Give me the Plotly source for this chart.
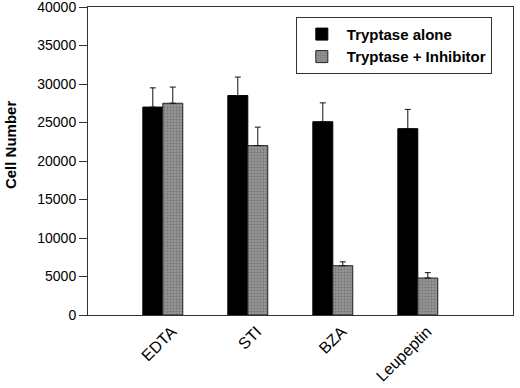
import plotly.graph_objects as go

categories = ["EDTA", "STI", "BZA", "Leupeptin"]
alone_values = [27000, 28500, 25100, 24200]
alone_errors = [2500, 2400, 2450, 2500]
inhib_values = [27500, 22000, 6400, 4800]
inhib_errors = [2100, 2400, 500, 700]
y_ticks = [0, 5000, 10000, 15000, 20000, 25000, 30000, 35000, 40000]

FONT = "Arial, 'Liberation Sans', sans-serif"

fig = go.Figure()
fig.add_trace(go.Bar(
    name="Tryptase alone", x=categories, y=alone_values,
    marker=dict(color="#000000", line=dict(color="#000000", width=1)),
    error_y=dict(type="data", array=alone_errors, symmetric=False,
                 arrayminus=[0] * len(alone_errors),
                 color="#111111", thickness=1, width=3),
))
fig.add_trace(go.Bar(
    name="Tryptase + Inhibitor", x=categories, y=inhib_values,
    marker=dict(color="#8a8a8a", line=dict(color="#222222", width=1),
                pattern=dict(shape=".", bgcolor="#9c9c9c", fgcolor="#5a5a5a",
                             size=3, solidity=0.5)),
    error_y=dict(type="data", array=inhib_errors, symmetric=False,
                 arrayminus=[0] * len(inhib_errors),
                 color="#111111", thickness=1, width=3),
))

fig.update_layout(
    width=520, height=388,
    margin=dict(l=88, r=7, t=7, b=73, autoexpand=False),
    paper_bgcolor="white", plot_bgcolor="white",
    barmode="group", bargap=0.53, bargroupgap=0,
    font=dict(family=FONT, color="black"),
    showlegend=True,
    legend=dict(
        x=0.489, y=0.968, xanchor="left", yanchor="top",
        bgcolor="white", bordercolor="#333333", borderwidth=1,
        font=dict(size=15, family=FONT, color="black", weight="bold"),
        itemwidth=40, tracegroupgap=0,
    ),
    annotations=[dict(
        text="Cell Number", textangle=-90, showarrow=False,
        xref="paper", yref="paper", x=-0.181, y=0.552,
        xanchor="center", yanchor="middle",
        font=dict(size=15, family=FONT, color="black", weight="bold"),
    )],
)
fig.update_xaxes(
    range=[-0.88, 4.12], showline=True, linecolor="#333333", linewidth=1,
    mirror=True, ticks="", showgrid=False, tickangle=-45, automargin=False,
    tickfont=dict(size=16, family=FONT, color="black"),
    ticklabelshift=9, ticklabelstandoff=0,
)
fig.update_yaxes(
    range=[0, 40000.5], tickvals=y_ticks, ticktext=[str(v) for v in y_ticks],
    showline=True, linecolor="#333333", linewidth=1, mirror=True,
    ticks="outside", ticklen=8, tickcolor="#333333", showgrid=False,
    zeroline=False, automargin=False, ticklabeloverflow="allow",
    tickfont=dict(size=14, family=FONT, color="black"),
)

fig.write_html(
    "out.html",
    config={"displayModeBar": False},
    post_script="document.body.style.margin='0';document.body.style.overflow='hidden';",
)
